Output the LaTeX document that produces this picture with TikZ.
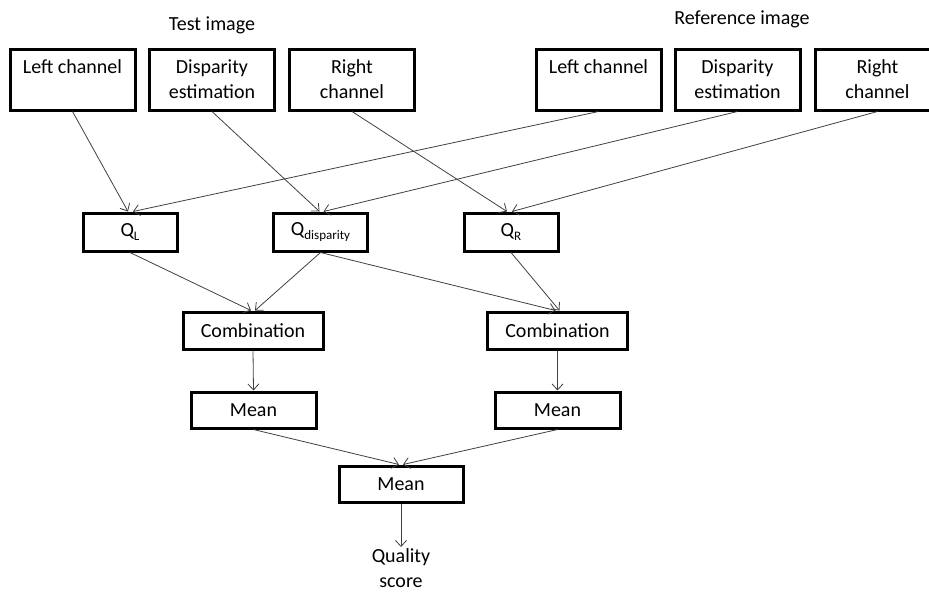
\documentclass[tikz,border=0pt]{standalone}
\usepackage{fontspec}
\setmainfont{Carlito}
\usetikzlibrary{arrows.meta}
\newcommand\qsub[1]{\raisebox{-0.4ex}{\fontsize{13}{15}\selectfont #1}}

\begin{document}
\begin{tikzpicture}[x=1pt,y=-1pt,
    font=\fontsize{20}{25}\selectfont,
    box/.style={draw,line width=3pt,inner sep=0pt,align=center},
    topbox/.style={box,minimum width=125pt,minimum height=61pt},
    qbox/.style={box,minimum width=94pt,minimum height=38pt},
    link/.style={black!75,line width=0.8pt,-{Straight Barb[length=6pt,width=11pt]}}]

    \useasboundingbox (0,0) rectangle (929,592);

    %% image titles
    \node (testtitle) at (212,25) {Test image};
    \node (reftitle) at (742,19) {Reference image};

    %% test image channels
    \node[topbox] (tleft)  at (72.5,79.5) {Left channel\\~};
    \node[topbox] (tdisp)  at (212,79.5)  {Disparity\\estimation};
    \node[topbox] (tright) at (352,79.5)  {Right\\channel};

    %% reference image channels
    \node[topbox] (rleft)  at (598.5,79.5) {Left channel\\~};
    \node[topbox] (rdisp)  at (737.5,79.5) {Disparity\\estimation};
    \node[topbox] (rright) at (877.5,79.5) {Right\\channel};

    %% quality maps
    \node[qbox] (ql)    at (130,232)   {Q\qsub{L}};
    \node[qbox] (qdisp) at (320.5,232) {Q\qsub{disparity}};
    \node[qbox] (qr)    at (511,232)   {Q\qsub{R}};

    %% combination and means
    \node[box,minimum width=140pt,minimum height=37pt] (combl) at (253,330.5)   {Combination};
    \node[box,minimum width=140pt,minimum height=37pt] (combr) at (557.5,330.5) {Combination};
    \node[box,minimum width=125pt,minimum height=36pt] (meanl) at (253.5,410)   {Mean};
    \node[box,minimum width=125pt,minimum height=36pt] (meanr) at (557.5,410)   {Mean};
    \node[box,minimum width=124pt,minimum height=36pt] (mean)  at (401,484)     {Mean};

    %% output
    \node[inner sep=1pt,align=center,anchor=north] (score) at (401,547) {Quality\\score};

    %% channels -> Q
    \draw[link] (tleft.south)  -- ([xshift=-2pt]ql.north);
    \draw[link] (rleft.south)  -- ([xshift=3pt]ql.north);
    \draw[link] (tdisp.south)  -- ([xshift=-1pt]qdisp.north);
    \draw[link] (rdisp.south)  -- ([xshift=3pt]qdisp.north);
    \draw[link] (tright.south) -- ([xshift=-4pt]qr.north);
    \draw[link] (rright.south) -- ([xshift=1pt]qr.north);

    %% Q -> combination
    \draw[link] (ql.south)    -- ([xshift=-2pt]combl.north);
    \draw[link] (qdisp.south) -- ([xshift=2pt]combl.north);
    \draw[link] (qdisp.south) -- ([xshift=-2pt]combr.north);
    \draw[link] (qr.south)    -- ([xshift=2pt]combr.north);

    %% combination -> mean
    \draw[link] (combl.south) -- (meanl.north);
    \draw[link] (combr.south) -- (meanr.north);

    %% mean -> mean -> score
    \draw[link] (meanl.south) -- ([xshift=-2pt]mean.north);
    \draw[link] (meanr.south) -- ([xshift=2pt]mean.north);
    \draw[link] (mean.south)  -- (score.north);

\end{tikzpicture}
\end{document}
